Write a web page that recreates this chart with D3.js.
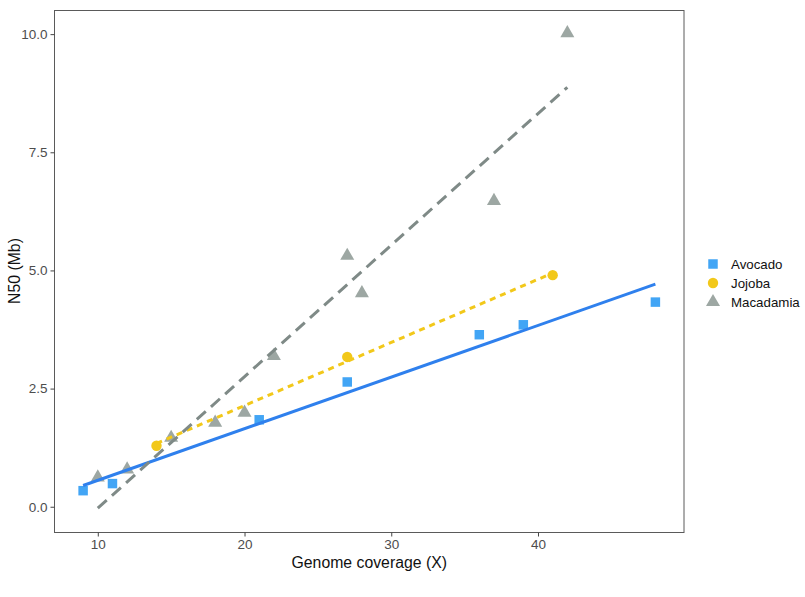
<!DOCTYPE html>
<html><head><meta charset="utf-8">
<script src="https://cdn.jsdelivr.net/npm/d3@7"></script>
<style>body{margin:0;background:#fff}text{font-family:"Liberation Sans",Arial,sans-serif}</style>
</head><body><svg id="c" width="805" height="597"></svg>
<script>
const avocadoX = [9, 11, 21, 27, 36, 39, 48];
const avocadoY = [0.34, 0.49, 1.84, 2.64, 3.64, 3.85, 4.33];
const jojobaX = [14, 27, 41];
const jojobaY = [1.29, 3.17, 4.90];
const macadamiaX = [10, 12, 15, 18, 20, 22, 27, 28, 37, 42];
const macadamiaY = [0.62, 0.79, 1.46, 1.78, 1.99, 3.19, 5.31, 4.52, 6.47, 10.02];
const xTicks = [10, 20, 30, 40];
const yTicks = [0, 2.5, 5, 7.5, 10];
const seriesNames = ["Avocado", "Jojoba", "Macadamia"];

const series = [
  {name: seriesNames[0], xs: avocadoX, ys: avocadoY, pt: "#42A5F5", ln: "#2F80ED", shape: d3.symbolSquare, dash: null},
  {name: seriesNames[1], xs: jojobaX, ys: jojobaY, pt: "#F2C81A", ln: "#F2C81A", shape: d3.symbolCircle, dash: "6,5"},
  {name: seriesNames[2], xs: macadamiaX, ys: macadamiaY, pt: "#9DA7A3", ln: "#7F8A87", shape: d3.symbolTriangle, dash: "12,7"}
];

const L = 54.5, R = 684, T = 10.5, B = 532.5;
const x = d3.scaleLinear().domain([7.05, 49.95]).range([L, R]);
const y = d3.scaleLinear().domain([-0.545, 10.5]).range([B, T]);
const svg = d3.select("#c");

function fit(xs, ys) {
  const mx = d3.mean(xs), my = d3.mean(ys);
  let sxy = 0, sxx = 0;
  xs.forEach((v, i) => { sxy += (v - mx) * (ys[i] - my); sxx += (v - mx) ** 2; });
  const b = sxy / sxx, a = my - b * mx;
  const x0 = d3.min(xs), x1 = d3.max(xs);
  return [[x0, a + b * x0], [x1, a + b * x1]];
}

svg.append("rect").attr("x", L).attr("y", T).attr("width", R - L).attr("height", B - T)
  .attr("fill", "none").attr("stroke", "#5a5a5a").attr("stroke-width", 1);

const xa = svg.append("g").attr("transform", `translate(0,${B})`)
  .call(d3.axisBottom(x).tickValues(xTicks).tickSize(4).tickPadding(3).tickFormat(d3.format("d")));
const ya = svg.append("g").attr("transform", `translate(${L},0)`)
  .call(d3.axisLeft(y).tickValues(yTicks).tickSize(4).tickPadding(3).tickFormat(d3.format(".1f")));
[xa, ya].forEach(g => {
  g.select(".domain").remove();
  g.selectAll(".tick line").attr("stroke", "#444");
  g.selectAll(".tick text").attr("fill", "#4d4d4d").style("font-size", "13.5px");
});

const symSize = s => s.shape === d3.symbolSquare ? 90 : (s.shape === d3.symbolCircle ? 85 : 85);
series.forEach(s => {
  svg.append("g").selectAll("path").data(s.xs.map((v, i) => [v, s.ys[i]])).join("path")
    .attr("transform", d => `translate(${x(d[0])},${y(d[1])})`)
    .attr("d", d3.symbol().type(s.shape).size(symSize(s))).attr("fill", s.pt);
});

const line = d3.line().x(d => x(d[0])).y(d => y(d[1]));
series.forEach(s => {
  svg.append("path").attr("d", line(fit(s.xs, s.ys))).attr("fill", "none")
    .attr("stroke", s.ln).attr("stroke-width", 3).attr("stroke-dasharray", s.dash);
});

svg.append("text").attr("x", (L + R) / 2).attr("y", 568).attr("text-anchor", "middle")
  .style("font-size", "15.8px").attr("fill", "#111").text("Genome coverage (X)");
svg.append("text").attr("transform", "translate(20,271) rotate(-90)").attr("text-anchor", "middle")
  .style("font-size", "15.8px").attr("fill", "#111").text("N50 (Mb)");

series.forEach((s, i) => {
  const cy = 264 + i * 19;
  svg.append("path").attr("transform", `translate(713,${cy})`)
    .attr("d", d3.symbol().type(s.shape).size(symSize(s))).attr("fill", s.pt);
  svg.append("text").attr("x", 731).attr("y", cy + 4.8).style("font-size", "13.3px")
    .attr("fill", "#111").text(s.name);
});
</script></body></html>
